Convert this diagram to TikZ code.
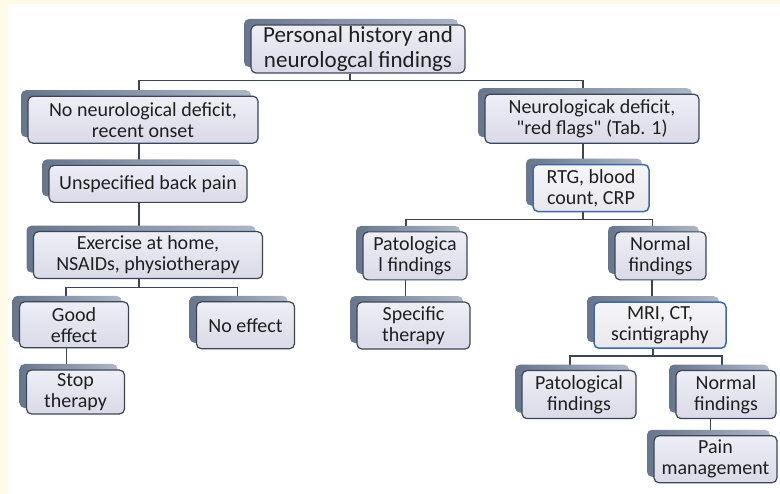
\documentclass[tikz,border=0pt]{standalone}
\usepackage{fontspec}
\setmainfont{Carlito}[Ligatures=TeXOff]
\usepackage{tikz}
\usetikzlibrary{positioning,shadows}
\definecolor{bgyel}{RGB}{255,251,230}
\definecolor{boxtop}{RGB}{238,238,246}
\definecolor{boxbot}{RGB}{218,218,232}
\definecolor{boxline}{RGB}{58,70,88}
\definecolor{hiline}{RGB}{62,104,166}
\definecolor{hitop}{RGB}{246,245,248}
\definecolor{hibot}{RGB}{232,231,236}
\definecolor{shdark}{RGB}{104,118,140}
\definecolor{shlight}{RGB}{172,182,198}
\pgfdeclarelayer{background}
\pgfsetlayers{background,main}
\tikzset{sz/.style 2 args={minimum width=#1pt,minimum height=#2pt}}

\begin{document}
\begin{tikzpicture}[inner sep=1pt]
\tikzstyle{box}=[rectangle, rounded corners=5pt, draw=boxline, line width=1.2pt, top color=boxtop, bottom color=boxbot, text=black!88, align=center, font=\fontsize{20}{21}\selectfont, general shadow={shadow xshift=-7pt, shadow yshift=6pt, left color=shdark, right color=shlight}]
\tikzstyle{hbox}=[box, draw=hiline, line width=1.5pt, top color=hitop, bottom color=hibot]
\tikzstyle{connect}=[draw=boxline, line width=1.3pt]
\useasboundingbox (0,0) rectangle (780pt,-494pt);
\node[box,sz={214}{48},font=\fontsize{23}{25}\selectfont] (hist) at (358pt,-49pt) {Personal history and\\neurologcal findings};
\node[box,sz={230}{47}] (nnd) [below=22pt of hist,xshift=-215pt] {No neurological deficit,\\recent onset};
\node[box,sz={198}{37}] (ubp) [below=21pt of nnd,xshift=5pt] {Unspecified back pain};
\node[box,sz={229}{47}] (ex) [below=28pt of ubp] {Exercise at home,\\NSAIDs, physiotherapy};
\node[box,sz={109}{46}] (ge) [below=22pt of ex,xshift=-74pt] {Good\\effect};
\node[box,sz={98}{47}] (ne) [below=22pt of ex,xshift=97.5pt] {No effect};
\node[box,sz={98}{44}] (st) [below=21pt of ge,xshift=1.5pt] {Stop\\therapy};
\node[box,sz={214}{49}] (nd) [below=20pt of hist,xshift=234pt] {Neurologicak deficit,\\"red flags" (Tab. 1)};
\node[hbox,sz={116}{47}] (rtg) [below=20pt of nd,xshift=-1pt] {RTG, blood\\count, CRP};
\node[box,sz={104}{48}] (pf) [below=19pt of rtg,xshift=-176pt] {Patologica\\l findings};
\node[box,sz={91}{48}] (nf) [below=19pt of rtg,xshift=69.5pt] {Normal\\findings};
\node[box,sz={113}{47}] (sp) [below=21pt of pf,xshift=-1.5pt] {Specific\\therapy};
\node[hbox,sz={132}{46}] (mri) [below=21pt of nf,xshift=-0.5pt] {MRI, CT,\\scintigraphy};
\node[box,sz={114}{48}] (pf2) [below=21pt of mri,xshift=-81pt] {Patological\\findings};
\node[box,sz={100}{48}] (nf2) [below=21pt of mri,xshift=66pt] {Normal\\findings};
\node[box,sz={123}{47}] (pm) [below=16pt of nf2,xshift=-10.5pt] {Pain\\management};
\begin{pgfonlayer}{background}
\fill[bgyel] (0,0) rectangle (780pt,-494pt);
\fill[white] (8pt,-4pt) rectangle (780pt,-494pt);
\draw[connect] ([xshift=-8pt]hist.south) -- ++(0,-7pt) -| ([xshift=-4pt]nnd.north);
\draw[connect] ([xshift=-8pt]hist.south) -- ++(0,-7pt) -| ([xshift=-9pt]nd.north);
\draw[connect] ([xshift=-9pt]ubp.north) -- ([xshift=-9pt]ubp.north |- nnd.south);
\draw[connect] ([xshift=-9pt]ex.north) -- ([xshift=-9pt]ex.north |- ubp.south);
\draw[connect] ([xshift=-9pt]ex.south) -- ++(0,-8pt) -| ([xshift=-8pt]ge.north);
\draw[connect] ([xshift=-9pt]ex.south) -- ++(0,-8pt) -| ([xshift=-8pt]ne.north);
\draw[connect] ([xshift=-9pt]st.north) -- ([xshift=-9pt]st.north |- ge.south);
\draw[connect] ([xshift=-8pt]rtg.north) -- ([xshift=-8pt]rtg.north |- nd.south);
\draw[connect] ([xshift=-8pt]rtg.south) -- ++(0,-7pt) -| ([xshift=-9pt]pf.north);
\draw[connect] ([xshift=-8pt]rtg.south) -- ++(0,-7pt) -| ([xshift=-8pt]nf.north);
\draw[connect] ([xshift=-8pt]sp.north) -- ([xshift=-8pt]sp.north |- pf.south);
\draw[connect] ([xshift=-8pt]mri.north) -- ([xshift=-8pt]mri.north |- nf.south);
\draw[connect] ([xshift=-7pt]mri.south) -- ++(0,-7pt) -| ([xshift=-9pt]pf2.north);
\draw[connect] ([xshift=-7pt]mri.south) -- ++(0,-7pt) -| ([xshift=-4pt]nf2.north);
\draw[connect] ([xshift=-5pt]pm.north) -- ([xshift=-5pt]pm.north |- nf2.south);
\end{pgfonlayer}
\end{tikzpicture}
\end{document}
